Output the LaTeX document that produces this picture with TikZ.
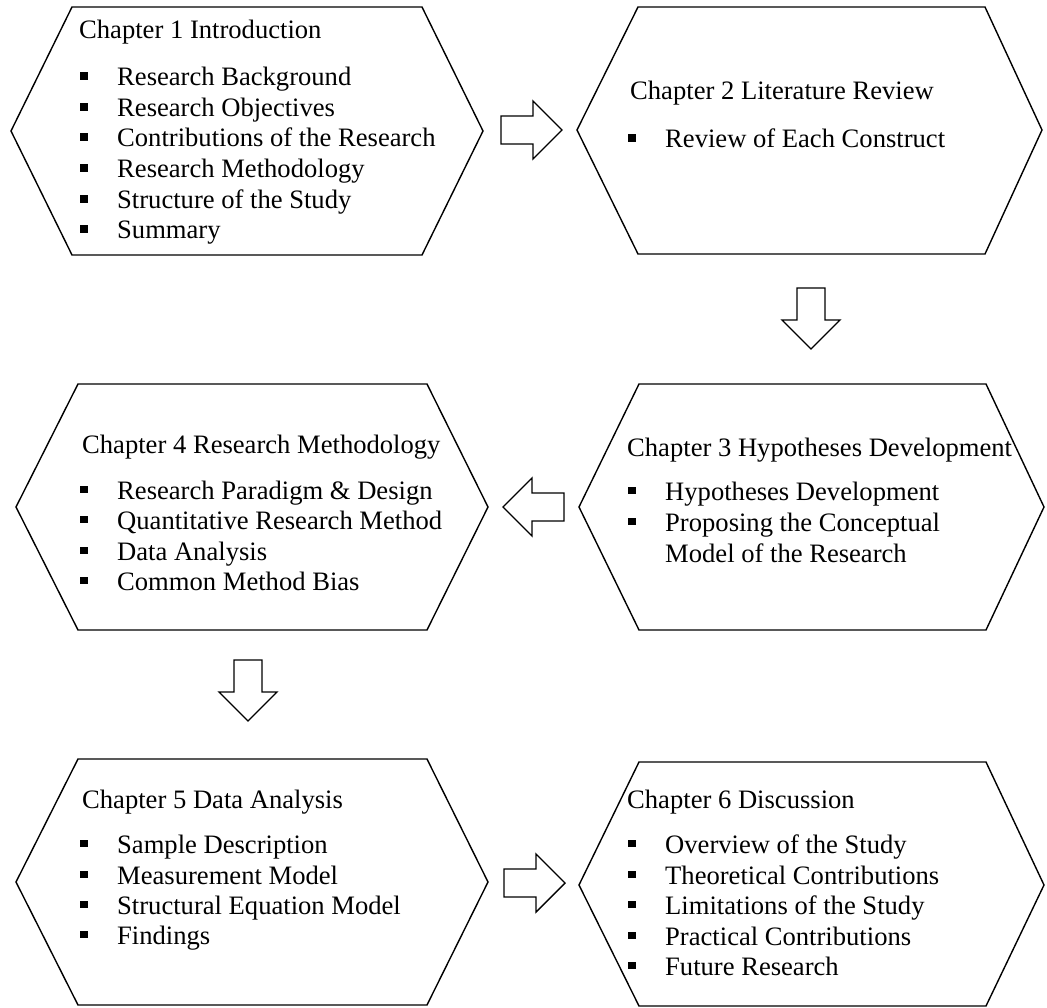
\documentclass[tikz,border=0pt]{standalone}
\usepackage{fontspec}
\setmainfont{Liberation Serif}
\begin{document}
\begin{tikzpicture}[x=1pt,y=-1pt,
  hexline/.style={draw=black,line width=1.4pt,line join=miter},
  blockarrow/.style={draw=black,line width=1.4pt,fill=white,line join=miter},
  title/.style={anchor=base west,inner sep=0pt,font=\fontsize{26.6}{30.7}\selectfont},
  entry/.style={anchor=base west,inner sep=0pt,font=\fontsize{26.6}{30.7}\selectfont},
  pics/rightarrow/.style={code={
    \draw[blockarrow] (0,-14) -- (32,-14) -- (32,-29) -- (61,0) -- (32,29) -- (32,14) -- (0,14) -- cycle;}}
]
\newcommand\bul{\makebox[37pt][l]{\rule[6pt]{7.5pt}{7.5pt}}}
\useasboundingbox (0,0) rectangle (1047,1008);

% chapter hexagons
\draw[hexline] (11,131) -- (72,7) -- (422,7) -- (483,131) -- (422,255) -- (72,255) -- cycle;
\draw[hexline] (577,130) -- (638,7) -- (985,7) -- (1042,130) -- (985,254) -- (638,254) -- cycle;
\draw[hexline] (579,507) -- (639,384) -- (986,384) -- (1044,507) -- (986,630) -- (639,630) -- cycle;
\draw[hexline] (16,507) -- (78,384) -- (427,384) -- (488,507) -- (427,630) -- (78,630) -- cycle;
\draw[hexline] (16,882) -- (78,759) -- (427,759) -- (488,882) -- (427,1005) -- (78,1005) -- cycle;
\draw[hexline] (579,885) -- (639,762) -- (986,762) -- (1044,885) -- (986,1006) -- (639,1006) -- cycle;

% flow arrows between chapters
\pic at (501,130) {rightarrow};
\pic[rotate=-90] at (811,288) {rightarrow};
\pic[rotate=180] at (564,507) {rightarrow};
\pic[rotate=-90] at (248,660) {rightarrow};
\pic at (504,883) {rightarrow};

% Chapter 1
\node[title] (t1) at (79,39) {Chapter 1 Introduction};
\node[entry] (c1a) at (80,86) {\bul Research Background};
\node[entry] (c1b) at (80,117) {\bul Research Objectives};
\node[entry] (c1c) at (80,147) {\bul Contributions of the Research};
\node[entry] (c1d) at (80,178) {\bul Research Methodology};
\node[entry] (c1e) at (80,209) {\bul Structure of the Study};
\node[entry] (c1f) at (80,239) {\bul Summary};

% Chapter 2
\node[title] (t2) at (630,100) {Chapter 2 Literature Review};
\node[entry] (c2a) at (628,148) {\bul Review of Each Construct};

% Chapter 3
\node[title] (t3) at (627,456) {Chapter 3 Hypotheses Development};
\node[entry] (c3a) at (628,500) {\bul Hypotheses Development};
\node[entry] (c3b) at (628,531) {\bul Proposing the Conceptual};
\node[entry] (c3c) at (665,562) {Model of the Research};

% Chapter 4
\node[title] (t4) at (82,453) {Chapter 4 Research Methodology};
\node[entry] (c4a) at (80,499) {\bul Research Paradigm \& Design};
\node[entry] (c4b) at (80,529) {\bul Quantitative Research Method};
\node[entry] (c4c) at (80,560) {\bul Data Analysis};
\node[entry] (c4d) at (80,590) {\bul Common Method Bias};

% Chapter 5
\node[title] (t5) at (82,808) {Chapter 5 Data Analysis};
\node[entry] (c5a) at (80,853) {\bul Sample Description};
\node[entry] (c5b) at (80,884) {\bul Measurement Model};
\node[entry] (c5c) at (80,914) {\bul Structural Equation Model};
\node[entry] (c5d) at (80,944) {\bul Findings};

% Chapter 6
\node[title] (t6) at (627,808) {Chapter 6 Discussion};
\node[entry] (c6a) at (628,853) {\bul Overview of the Study};
\node[entry] (c6b) at (628,884) {\bul Theoretical Contributions};
\node[entry] (c6c) at (628,914) {\bul Limitations of the Study};
\node[entry] (c6d) at (628,945) {\bul Practical Contributions};
\node[entry] (c6e) at (628,975) {\bul Future Research};
\end{tikzpicture}
\end{document}
